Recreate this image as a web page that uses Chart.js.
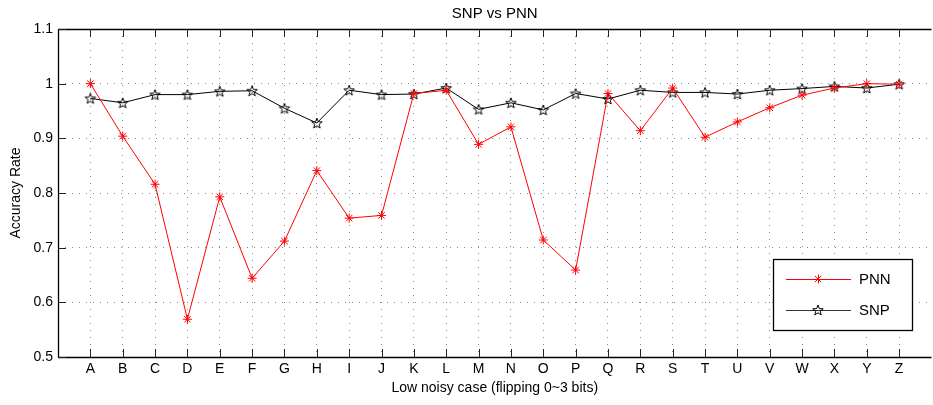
<!DOCTYPE html>
<html>
<head>
<meta charset="utf-8">
<script src="https://cdn.jsdelivr.net/npm/chart.js@4/dist/chart.umd.min.js"></script>
<style>
	html, body { margin: 0; padding: 0; background: #fff; overflow: hidden; }
	#wrap { width: 933px; height: 405px; overflow: hidden; }
</style>
</head>
<body>
<div id="wrap"><canvas id="acc-chart" width="937" height="405"></canvas></div>
<script>
// categories and series
const cases = ['A','B','C','D','E','F','G','H','I','J','K','L','M','N','O','P','Q','R','S','T','U','V','W','X','Y','Z'];
const pnnRate = [1.0, 0.904, 0.816, 0.569, 0.793, 0.644, 0.712, 0.841, 0.754, 0.759, 0.982, 0.988, 0.889, 0.921, 0.714, 0.659, 0.982, 0.914, 0.992, 0.902, 0.930, 0.956, 0.979, 0.992, 1.0, 0.999];
const snpRate = [0.973, 0.965, 0.980, 0.980, 0.986, 0.987, 0.955, 0.928, 0.988, 0.980, 0.981, 0.992, 0.953, 0.965, 0.952, 0.982, 0.972, 0.988, 0.984, 0.984, 0.981, 0.988, 0.991, 0.995, 0.992, 0.999];
const yTicks = [0.5, 0.6, 0.7, 0.8, 0.9, 1, 1.1];

const FONT = '"Liberation Sans", Arial, Helvetica, sans-serif';

// pentagram marker for SNP
function makeStar(size) {
	const c = document.createElement('canvas');
	c.width = size; c.height = size;
	const g = c.getContext('2d');
	const cx = size / 2, cy = size / 2 + 0.5, ro = size / 2 - 1.5, ri = ro * 0.42;
	g.beginPath();
	for (let i = 0; i < 10; i++) {
		const r = (i % 2 === 0) ? ro : ri;
		const a = -Math.PI / 2 + i * Math.PI / 5;
		const px = cx + r * Math.cos(a), py = cy + r * Math.sin(a);
		if (i === 0) g.moveTo(px, py); else g.lineTo(px, py);
	}
	g.closePath();
	g.strokeStyle = '#000';
	g.lineWidth = 1;
	g.stroke();
	return c;
}
const starImg = makeStar(14);

const toPts = arr => arr.map((v, i) => ({ x: i, y: v }));

// frame, inward ticks, labels and legend, matlab style
const matlabDecor = {
	id: 'matlabDecor',
	beforeDatasetsDraw(chart) {
		const { ctx, chartArea: a, scales: { x, y } } = chart;
		ctx.save();
		ctx.strokeStyle = '#000';
		ctx.lineWidth = 1.3;
		ctx.beginPath();
		ctx.moveTo(a.left, a.top + 0.5);
		ctx.lineTo(a.right, a.top + 0.5);
		ctx.moveTo(a.left + 0.5, a.top);
		ctx.lineTo(a.left + 0.5, a.bottom);
		ctx.moveTo(a.left, a.bottom + 0.5);
		ctx.lineTo(a.right, a.bottom + 0.5);
		ctx.stroke();
		// inward ticks
		const tl = 8;
		ctx.lineWidth = 1;
		ctx.beginPath();
		cases.forEach((c, i) => {
			const px = Math.round(x.getPixelForValue(i)) + 0.5;
			ctx.moveTo(px, a.bottom); ctx.lineTo(px, a.bottom - tl);
			ctx.moveTo(px, a.top); ctx.lineTo(px, a.top + tl);
		});
		yTicks.forEach(v => {
			const py = Math.round(y.getPixelForValue(v)) + 0.5;
			ctx.moveTo(a.left, py); ctx.lineTo(a.left + tl, py);
		});
		ctx.strokeStyle = '#222';
		ctx.stroke();
		ctx.restore();
	},
	afterDraw(chart) {
		const { ctx, chartArea: a } = chart;
		ctx.save();
		// title and axis titles
		ctx.fillStyle = '#000';
		ctx.textAlign = 'center';
		ctx.textBaseline = 'middle';
		ctx.font = '15px ' + FONT;
		ctx.fillText('SNP vs PNN', (a.left + a.right) / 2, 14);
		ctx.font = '14px ' + FONT;
		ctx.fillText('Low noisy case (flipping 0~3 bits)', (a.left + a.right) / 2, 388);
		ctx.save();
		ctx.translate(16, (a.top + a.bottom) / 2);
		ctx.rotate(-Math.PI / 2);
		ctx.fillText('Accuracy Rate', 0, 0);
		ctx.restore();

		// legend
		const lx = 773, ly = 259, lw = 139, lh = 71;
		ctx.fillStyle = '#fff';
		ctx.fillRect(lx, ly, lw, lh);
		ctx.strokeStyle = '#000';
		ctx.lineWidth = 1.3;
		ctx.strokeRect(lx + 0.5, ly + 0.5, lw, lh);
		const rows = [
			{ label: 'PNN', color: '#ff0000', yy: 279 },
			{ label: 'SNP', color: '#333', yy: 310 }
		];
		rows.forEach(r => {
			ctx.strokeStyle = r.color;
			ctx.lineWidth = 1;
			ctx.beginPath();
			ctx.moveTo(786, r.yy + 0.5);
			ctx.lineTo(851, r.yy + 0.5);
			ctx.stroke();
			if (r.label === 'PNN') {
				ctx.beginPath();
				const m = 4.5;
				ctx.moveTo(818 - m, r.yy + 0.5); ctx.lineTo(818 + m, r.yy + 0.5);
				ctx.moveTo(818.5, r.yy - m); ctx.lineTo(818.5, r.yy + m);
				ctx.moveTo(818 - 3.2, r.yy - 3.2); ctx.lineTo(818 + 3.2, r.yy + 3.2);
				ctx.moveTo(818 - 3.2, r.yy + 3.2); ctx.lineTo(818 + 3.2, r.yy - 3.2);
				ctx.stroke();
			} else {
				ctx.drawImage(starImg, 818 - 7, r.yy - 7);
			}
			ctx.fillStyle = '#000';
			ctx.textAlign = 'left';
			ctx.font = '15px ' + FONT;
			ctx.fillText(r.label, 859, r.yy + 1);
		});
		ctx.restore();
	}
};

document.addEventListener('DOMContentLoaded', function () {
	const ctx = document.getElementById('acc-chart');
	new Chart(ctx, {
		type: 'line',
		data: {
			datasets: [
				{
					label: 'PNN',
					data: toPts(pnnRate),
					borderColor: '#ff0000',
					backgroundColor: '#ff0000',
					borderWidth: 1,
					pointStyle: 'star',
					pointRadius: 4.5,
					pointBorderWidth: 1,
					pointBorderColor: '#ff0000',
					tension: 0
				},
				{
					label: 'SNP',
					data: toPts(snpRate),
					borderColor: '#000',
					borderWidth: 1,
					pointStyle: starImg,
					tension: 0
				}
			]
		},
		options: {
			responsive: false,
			animation: false,
			events: [],
			layout: { padding: { top: 29, left: 0, right: 0, bottom: 0 } },
			plugins: {
				legend: { display: false },
				title: { display: false },
				tooltip: { enabled: false }
			},
			scales: {
				x: {
					type: 'linear',
					min: -1,
					max: 26,
					afterFit: s => { s.height = 48; },
					afterBuildTicks: s => { s.ticks = cases.map((c, i) => ({ value: i })); },
					ticks: {
						autoSkip: false,
						maxRotation: 0,
						padding: 4,
						color: '#000',
						font: { family: FONT, size: 14 },
						callback: v => cases[v] || ''
					},
					grid: {
						drawTicks: false,
						color: '#888',
						lineWidth: 1
					},
					border: { display: false, dash: [1, 6] }
				},
				y: {
					type: 'linear',
					min: 0.5,
					max: 1.1,
					afterFit: s => { s.width = 58; },
					afterBuildTicks: s => { s.ticks = yTicks.map(v => ({ value: v })); },
					ticks: {
						padding: 5,
						color: '#000',
						font: { family: FONT, size: 14 },
						callback: v => String(Math.round(v * 10) / 10)
					},
					grid: {
						drawTicks: false,
						color: '#888',
						lineWidth: 1
					},
					border: { display: false, dash: [1, 6] }
				}
			}
		},
		plugins: [matlabDecor]
	});
});
</script>
</body>
</html>
